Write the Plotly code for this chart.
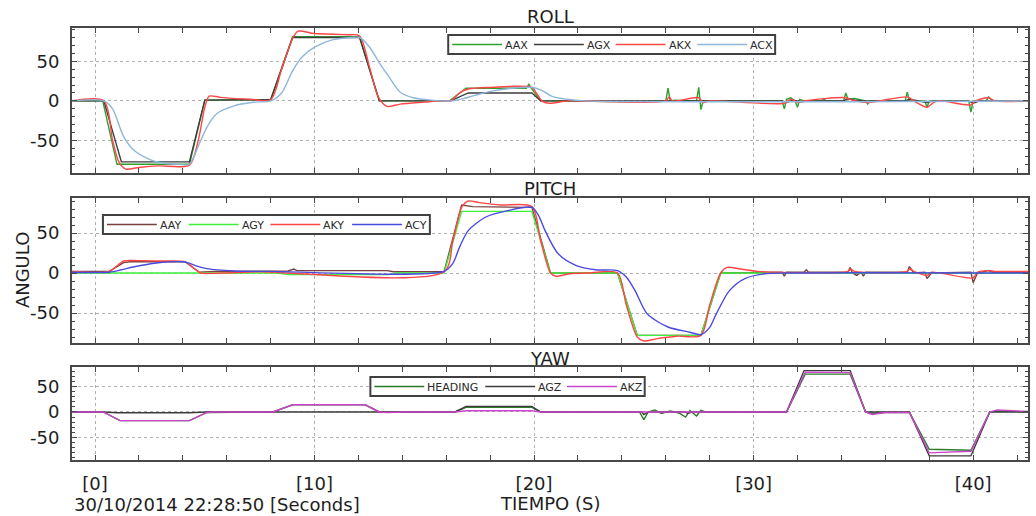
import plotly.graph_objects as go

FONT = "DejaVu Sans"
X_RANGE = [-1.05, 42.5]
X_TICKS = [0, 10, 20, 30, 40]
X_TICK_TEXT = ["[0]", "[10]", "[20]", "[30]", "[40]"]
Y_TICKS = [-50, 0, 50]
Y_TICK_TEXT = ["-50", "0", "50"]

# ---------------- ROLL (time [s], angle [deg]) ----------------
roll_aax = [(-1.05, 0), (0.35, 0), (1.0, -80), (4.3, -80), (5.0, 1), (8.0, 1.5), (9.0, 81),
            (12.05, 81), (12.95, 0), (16.15, 0), (16.9, 16), (19.65, 16), (19.76, 21), (19.87, 16),
            (20.3, 0), (23.8, -1), (24.7, -1), (26.0, 0), (26.1, 16), (26.2, 0), (26.4, 1),
            (27.4, 0), (27.5, 17), (27.6, -11), (27.7, 0), (31.3, 0), (31.4, -10), (31.5, 2),
            (31.7, 4), (31.9, -1), (32.0, -8), (32.1, 2), (32.3, 0), (33.1, 0), (33.2, 3), (33.3, 0),
            (34.1, 0), (34.2, 10), (34.3, 2), (34.6, 3), (35.1, 0), (35.2, -4), (35.3, 0),
            (36.9, 0), (37.0, 11), (37.1, 0), (37.8, 0), (37.9, -8), (38.0, 0), (39.8, 0),
            (39.9, -14), (40.0, 0), (40.6, 0), (40.7, 5), (40.9, 0), (42.5, 0)]
roll_agx = [(-1.05, 0), (0.4, 0), (1.2, -77), (4.3, -77), (5.0, 1), (8.0, 1.5), (9.0, 80),
            (12.05, 80), (12.95, 0), (16.2, 0), (17.0, 10), (19.9, 10), (20.3, 0), (31.3, 0),
            (31.5, -2), (31.8, 1), (32.2, -1), (32.5, 0), (34.1, 0), (34.3, 3), (34.6, 1), (35.0, 0),
            (36.9, 0), (37.1, 2), (37.9, -2), (38.2, 0), (39.8, 0), (40.0, -3), (40.3, 0), (42.5, 0)]
roll_akx = [(-1.05, 0), (0.4, 0), (0.8, -50), (1.1, -78), (1.4, -86), (2.0, -84), (2.9, -82),
            (4.3, -81), (4.7, -50), (5.0, -8), (5.2, 6), (5.7, 4.5), (7.1, 2), (8.0, 1.5),
            (8.5, 40), (9.0, 79), (9.25, 88), (10.0, 85), (11.5, 83.5), (12.05, 82), (12.5, 43),
            (12.9, 5), (13.3, -7), (13.9, -4), (15.0, -1.5), (15.7, 0), (16.2, 0), (16.6, 10),
            (17.0, 15), (18.0, 17), (19.9, 17), (20.1, 10), (20.4, -1), (20.7, -3), (21.6, 0),
            (26.0, 0), (26.15, 5), (26.3, 0), (27.5, 4), (27.7, -2), (28.0, 0), (31.4, -3),
            (31.7, 2), (32.0, -2), (32.3, 0), (34.2, 4), (34.5, 1), (35.2, -2), (37.0, 5), (37.3, 0),
            (37.9, -8), (38.2, -2), (38.5, 0), (39.9, -5), (40.1, 0), (40.7, 4), (41.0, 0), (42.5, 0)]
roll_acx = [(-1.05, 0), (0.4, 0), (0.8, -10), (1.3, -45), (1.8, -63), (2.5, -74), (3.0, -78),
            (3.8, -80), (4.3, -80), (4.75, -54), (5.1, -33), (5.55, -16), (6.3, -6.5), (7.2, -1.7),
            (8.0, 0), (8.5, 10), (9.0, 38), (9.45, 56), (10.0, 68), (10.8, 77), (11.7, 80),
            (12.05, 80), (12.5, 68), (12.95, 48), (13.4, 30), (13.9, 11), (14.5, 4), (15.3, 1),
            (16.3, 0), (16.8, 3), (17.3, 7), (18.0, 12), (19.0, 16), (19.9, 17), (20.3, 14),
            (20.85, 5.4), (21.5, 2), (22.3, 0), (42.5, 0)]

# ---------------- PITCH ----------------
pitch_aay = [(-1.05, 2), (0.65, 2), (1.3, 13), (1.6, 14), (4.1, 14), (4.75, 1), (5.5, 2),
             (8.8, 2.5), (9.05, 5), (9.2, 3), (13.3, 3), (13.6, 1.5), (15.9, 1.5), (16.7, 85),
             (17.2, 83), (19.9, 82), (20.75, 0), (23.8, 0), (24.7, -78), (27.6, -78), (28.5, 0),
             (31.3, 1), (31.4, -4), (31.5, 1), (32.3, 1), (32.4, 4), (32.5, 1), (34.3, 1), (34.4, 7),
             (34.5, 0), (34.7, -3), (34.9, 1), (35.0, -4), (35.1, 1), (37.0, 1), (37.1, 8), (37.3, 0),
             (37.8, 1), (37.9, -7), (38.1, 0), (39.9, 1), (40.0, -12), (40.2, 0), (40.7, 3),
             (40.9, 1), (42.5, 1)]
pitch_agy = [(-1.05, 0), (8.3, 0), (8.8, -2), (13.4, -2), (13.8, 0), (15.9, 0), (16.7, 77),
             (19.9, 77), (20.75, 0), (23.8, 0), (24.7, -78), (27.6, -78), (28.5, 0), (42.5, -0.5)]
pitch_aky = [(-1.05, 2), (0.65, 2), (1.0, 9), (1.3, 15), (2.0, 15.5), (3.0, 15), (4.1, 14),
             (4.5, 6), (4.8, 0), (5.2, -0.5), (6.5, 0.5), (7.5, 1.5), (15.9, 1.5), (16.3, 40),
             (16.7, 82), (17.0, 90), (17.5, 88), (18.5, 85), (19.9, 83), (20.3, 40), (20.75, 0),
             (21.0, -4), (21.6, -1), (22.5, 0), (23.8, 0), (24.2, -40), (24.7, -80), (25.0, -85),
             (25.6, -82), (26.5, -79), (27.6, -78), (28.0, -40), (28.5, 0), (28.8, 7), (29.4, 5),
             (30.2, 2), (34.3, 2), (34.4, 5), (34.6, 2), (37.0, 2), (37.1, 5), (37.3, 2), (37.9, -3),
             (38.1, 1), (40.0, -6), (40.2, 1), (40.7, 3), (41.0, 2), (42.5, 2)]
pitch_acy = [(-1.05, 1), (0.65, 1), (1.2, 4), (1.74, 7.5), (2.8, 12.5), (4.0, 14), (4.2, 13),
             (4.6, 9), (5.1, 5.4), (6.3, 2.5), (8.0, 2), (15.9, 2), (16.3, 12), (16.6, 32),
             (17.0, 53), (17.8, 70), (18.8, 78), (19.9, 82), (20.2, 72), (20.5, 53), (21.1, 24),
             (21.9, 9.6), (22.8, 4), (23.8, 3), (24.2, -5), (24.6, -22), (25.15, -51), (26.1, -67.5),
             (27.1, -74), (27.6, -77), (28.0, -68), (28.3, -51), (28.9, -22), (29.6, -7),
             (30.5, -1), (31.5, 0), (42.5, 0)]

# ---------------- YAW ----------------
yaw_heading = [(-1.05, 0), (0.37, 0), (1.14, -17), (4.3, -17), (5.1, -1), (8.1, 0), (9.0, 14),
               (12.3, 14), (12.95, 0), (16.4, 0), (16.9, 9), (19.9, 9), (20.3, 0), (24.8, 0),
               (25.0, -15), (25.2, 0), (25.5, 4), (25.8, -3), (26.2, 2), (26.6, -2), (26.9, -10),
               (27.1, 3), (27.4, -8), (27.6, 3), (27.8, 0), (31.5, 0), (32.35, 74), (34.4, 74),
               (35.1, 0), (35.4, -3), (36.0, -1), (37.1, -1), (38.0, -73), (39.9, -75), (40.76, 0),
               (41.1, 2), (42.5, 0)]
yaw_agz = [(-1.05, 0), (0.37, 0), (1.0, -1.5), (4.3, -1.5), (5.1, 0), (16.4, 0), (16.9, 11),
           (19.9, 11), (20.3, 0), (24.9, 0), (25.0, -5), (25.2, 0), (26.9, 0), (27.0, -3),
           (27.2, 0), (31.5, 0), (32.3, 81), (34.4, 81), (35.1, 0), (37.1, 0), (38.0, -86),
           (39.9, -86), (40.76, 0), (42.5, 0)]
yaw_akz = [(-1.05, 0), (0.37, 0), (1.14, -17), (4.3, -17), (5.1, -1), (5.5, 0), (8.1, 0),
           (9.0, 14), (12.3, 14), (12.95, 0), (13.3, -1), (14.0, 0), (16.4, 0), (16.9, 2.5),
           (19.9, 2.5), (20.3, 0), (31.5, 0), (32.35, 78), (34.4, 77), (35.1, 0), (35.4, -5),
           (36.0, -1), (37.1, -1), (38.0, -80), (39.9, -77), (40.76, 0), (41.1, 4), (42.5, 1)]

# title, y range, series (name, samples, colour, line shape)
PANELS = [
    ("ROLL", [-91, 92], [
        ("AAX", roll_aax, "#2fa02f", "linear"),
        ("AGX", roll_agx, "#3c3c3c", "linear"),
        ("AKX", roll_akx, "#ff4646", "spline"),
        ("ACX", roll_acx, "#8fb6dc", "spline"),
    ]),
    ("PITCH", [-87.5, 93.75], [
        ("AAY", pitch_aay, "#7a4040", "linear"),
        ("AGY", pitch_agy, "#3cf03c", "linear"),
        ("AKY", pitch_aky, "#ff4646", "spline"),
        ("ACY", pitch_acy, "#4a4ae0", "spline"),
    ]),
    ("YAW", [-94, 88], [
        ("HEADING", yaw_heading, "#2a7a2a", "linear"),
        ("AGZ", yaw_agz, "#3c3c3c", "linear"),
        ("AKZ", yaw_akz, "#cc44cc", "linear"),
    ]),
]

# ---- page geometry (pixels) ----
W, H = 1036, 516
PLOT_L, PLOT_R, PLOT_T, PLOT_B = 72, 1030, 28, 460
PANEL_PX = [(28, 173), (198, 343), (367, 460)]      # top/bottom of each frame
TITLE_PX = [17, 188, 358]
LEGEND_BOX_PX = [(449, 35), (103, 215), (371, 377)]  # top-left of each key box
KEY_H = 19
KEY_LINE = 50
CHAR_W = 7.3


def px_x(px):
    return (px - PLOT_L) / (PLOT_R - PLOT_L)


def px_y(py):
    return (PLOT_B - py) / (PLOT_B - PLOT_T)


FRAME = "#484848"
TEXT = "#1e1e1e"
GRID = dict(showgrid=True, gridcolor="#b0b0b0", griddash="3px,3px", gridwidth=1)
LINE = dict(showline=True, linecolor=FRAME, linewidth=2, mirror="ticks", zeroline=False)
TICKFONT = dict(family=FONT, size=18, color=TEXT)

fig = go.Figure()
shapes, notes = [], []

for i, (title, yrange, series) in enumerate(PANELS):
    n = "" if i == 0 else str(i + 1)
    for name, samples, color, shape in series:
        fig.add_trace(go.Scatter(
            x=[p[0] for p in samples], y=[p[1] for p in samples],
            mode="lines", name=name, showlegend=False,
            line=dict(color=color, width=1.4, shape=shape, smoothing=0.8),
            xaxis="x" + n, yaxis="y" + n,
        ))
    top, bot = PANEL_PX[i]
    fig.update_layout(**{
        "xaxis" + n: dict(
            domain=[0, 1], anchor="y" + n, range=X_RANGE, matches=None if i == 0 else "x",
            tickmode="array", tickvals=X_TICKS, ticktext=X_TICK_TEXT,
            showticklabels=(i == 2), ticks="inside", ticklen=5, tickcolor=FRAME,
            minor=dict(tickmode="linear", tick0=0, dtick=2, ticks="inside", ticklen=5,
                       tickcolor=FRAME, showgrid=False),
            ticklabelstandoff=6, tickfont=TICKFONT, **GRID, **LINE,
        ),
        "yaxis" + n: dict(
            domain=[px_y(bot), px_y(top)], anchor="x" + n, range=yrange,
            tickmode="array", tickvals=Y_TICKS, ticktext=Y_TICK_TEXT,
            ticks="inside", ticklen=5, tickcolor=FRAME,
            minor=dict(tickmode="linear", tick0=0, dtick=10, ticks="inside", ticklen=3,
                       tickcolor=FRAME, showgrid=False),
            ticklabelstandoff=7, tickfont=TICKFONT, **GRID, **LINE,
        ),
    })
    notes.append(dict(text=title, x=0.5, y=px_y(TITLE_PX[i]), xanchor="center",
                      yanchor="middle", font=dict(family=FONT, size=18, color=TEXT)))

    # series key: line sample followed by its name, inside a framed box
    bx, by = LEGEND_BOX_PX[i]
    cy = by + KEY_H / 2
    cx = bx + 4
    for name, _, color, _ in series:
        shapes.append(dict(type="line", xref="paper", yref="paper",
                           x0=px_x(cx), x1=px_x(cx + KEY_LINE), y0=px_y(cy), y1=px_y(cy),
                           line=dict(color=color, width=1.6)))
        notes.append(dict(text=name, x=px_x(cx + KEY_LINE + 1), y=px_y(cy + 0.5),
                          xanchor="left", yanchor="middle",
                          font=dict(family=FONT, size=11, color="#2a2a2a")))
        cx += KEY_LINE + 1 + CHAR_W * len(name) + 9
    shapes.insert(0, dict(type="rect", xref="paper", yref="paper",
                          x0=px_x(bx), x1=px_x(cx - 4), y0=px_y(by), y1=px_y(by + KEY_H),
                          fillcolor="white", line=dict(color="#404040", width=2), layer="above"))

notes.append(dict(text="ANGULO", x=px_x(22), y=px_y(270), textangle=-90, xanchor="center",
                  yanchor="middle", font=dict(family=FONT, size=18, color=TEXT)))
notes.append(dict(text="30/10/2014 22:28:50 [Seconds]", x=px_x(72), y=px_y(504),
                  xanchor="left", yanchor="middle", font=dict(family=FONT, size=18, color=TEXT)))
notes.append(dict(text="TIEMPO (S)", x=0.5, y=px_y(503), xanchor="center", yanchor="middle",
                  font=dict(family=FONT, size=18, color=TEXT)))

for a in notes:
    fig.add_annotation(xref="paper", yref="paper", showarrow=False, **a)

# draw the boxes first, then lines on top of them
boxes = [s for s in shapes if s["type"] == "rect"]
keys = [s for s in shapes if s["type"] == "line"]
for s in keys:
    s["layer"] = "above"
fig.update_layout(shapes=boxes + keys)

fig.update_layout(
    width=W, height=H,
    margin=dict(l=PLOT_L, r=W - PLOT_R, t=PLOT_T, b=H - PLOT_B),
    plot_bgcolor="white", paper_bgcolor="white",
)

fig.write_html("out.html")
